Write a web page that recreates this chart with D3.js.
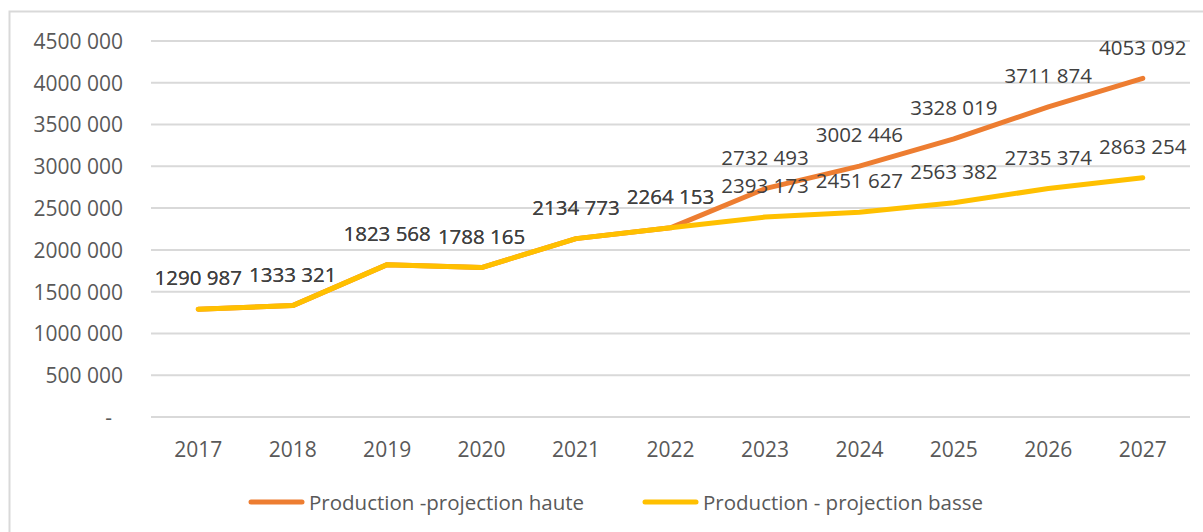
<!DOCTYPE html>
<meta charset="utf-8">
<style>
body, html { margin: 0; background: #fff; }
text { font-family: "Open Sans", sans-serif; }
.grid line { stroke: #d9d9d9; stroke-width: 2px; }
.axis text { fill: #595959; font-size: 21px; }
.lbl { fill: #404040; font-size: 20.5px; text-anchor: middle; }
.legend text { fill: #595959; font-size: 20.5px; }
</style>
<svg></svg>
<script src="https://d3js.org/d3.v7.min.js"></script>
<script>

var years = ['2017','2018','2019','2020','2021','2022','2023','2024','2025','2026','2027'];
var haute = [1290987, 1333321, 1823568, 1788165, 2134773, 2264153, 2732493, 3002446, 3328019, 3711874, 4053092];
var basse = [1290987, 1333321, 1823568, 1788165, 2134773, 2264153, 2393173, 2451627, 2563382, 2735374, 2863254];
var yTicks = [0, 500000, 1000000, 1500000, 2000000, 2500000, 3000000, 3500000, 4000000, 4500000];
var seriesNames = ['Production -projection haute', 'Production - projection basse'];
var colors = ['#ED7D31', '#FFC000'];

var W = 1203, H = 532;
var mLeft = 151, mRight = 1190, mTop = 41, mBottom = 417;

// excel style "### ###": only last group separated
function fmt(v) {
  if (v === 0) return '-';
  var k = Math.floor(v / 1000), r = v % 1000;
  return k + ' ' + String(r).padStart(3, '0');
}

var svg = d3.select('svg').attr('width', W).attr('height', H);

svg.append('rect')
  .attr('x', 9.5).attr('y', 11.5)
  .attr('width', W + 20).attr('height', H + 20)
  .attr('fill', 'none').attr('stroke', '#d9d9d9').attr('stroke-width', 2);

var x = d3.scaleBand().domain(years).range([mLeft, mRight]);
var y = d3.scaleLinear().domain([0, 4500000]).range([mBottom, mTop]);

svg.append('g').attr('class', 'grid')
  .selectAll('line').data(yTicks).enter().append('line')
  .attr('x1', mLeft).attr('x2', mRight)
  .attr('y1', d => y(d)).attr('y2', d => y(d));

var yAxis = svg.append('g').attr('class', 'axis')
  .attr('transform', 'translate(' + (mLeft - 28) + ',0)')
  .call(d3.axisLeft(y).tickValues(yTicks).tickFormat(fmt).tickSize(0).tickPadding(0));
yAxis.select('.domain').remove();
yAxis.selectAll('text').attr('dy', '0.35em')
  .filter(d => d === 0).attr('x', -11);

var xAxis = svg.append('g').attr('class', 'axis')
  .attr('transform', 'translate(0,' + mBottom + ')')
  .call(d3.axisBottom(x).tickSize(0).tickPadding(0));
xAxis.select('.domain').remove();
xAxis.selectAll('text').attr('dy', '0.35em').attr('y', 33);

var cx = d => x(d) + x.bandwidth() / 2;
var line = d3.line().x((d, i) => cx(years[i])).y(d => y(d));

// haute first so basse sits on top where they coincide
[haute, basse].forEach(function (s, k) {
  svg.append('path').datum(s)
    .attr('d', line)
    .attr('fill', 'none').attr('stroke', colors[k])
    .attr('stroke-width', 5).attr('stroke-linejoin', 'round').attr('stroke-linecap', 'round');
});

[haute, basse].forEach(function (s) {
  svg.append('g').selectAll('text').data(s).enter().append('text')
    .attr('class', 'lbl')
    .attr('x', (d, i) => cx(years[i]))
    .attr('y', d => y(d) - 31)
    .attr('dy', '0.35em')
    .text(fmt);
});

var legend = svg.append('g').attr('class', 'legend');
var lx = [249, 643];
seriesNames.forEach(function (n, i) {
  legend.append('line')
    .attr('x1', lx[i] + 2).attr('x2', lx[i] + 53)
    .attr('y1', 502).attr('y2', 502)
    .attr('stroke', colors[i]).attr('stroke-width', 5).attr('stroke-linecap', 'round');
  legend.append('text')
    .attr('x', lx[i] + 60).attr('y', 503).attr('dy', '0.35em')
    .text(n);
});

</script>
